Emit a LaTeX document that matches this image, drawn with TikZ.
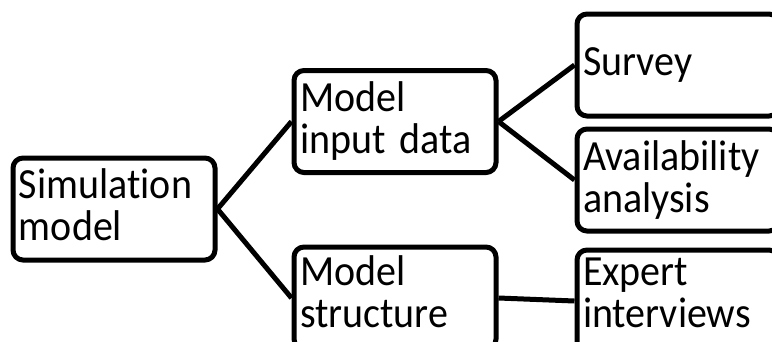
\documentclass[tikz,border=0pt]{standalone}
\usepackage{fontspec}
\setmainfont{Carlito}[FakeStretch=0.93, Ligatures=NoCommon]
\begin{document}
\begin{tikzpicture}[x=1pt,y=-1pt,
  box/.style={draw=black, line width=5pt, rounded corners=10pt, fill=white,
    minimum width=202pt, minimum height=102pt, inner xsep=6pt, inner ysep=0pt,
    text width=190pt, align=left,
    font=\fontsize{43}{42}\selectfont},
  link/.style={draw=black, line width=5pt}]
  \clip (0,0) rectangle (772,341);
  \fill[white] (0,0) rectangle (772,341);

  % tree nodes (the larger text depths lift two-line labels a little)
  \node[box, text depth=50pt] (sim)    at (114,209)   {Simulation\\model};
  \node[box]                  (input)  at (395,121.5) {Model\\input data};
  \node[box, text depth=54pt] (struct) at (395,298)   {Model\\structure};
  \node[box]                  (survey) at (678,65)    {Survey};
  \node[box]                  (avail)  at (678,180)   {Availability\\analysis};
  \node[box, text depth=58pt] (expert) at (678,301)   {Expert\\interviews};

  % branches
  \draw[link] (sim.east) -- (input.west);
  \draw[link] (sim.east) -- (struct.west);
  \draw[link] (input.east) -- (survey.west);
  \draw[link] (input.east) -- (avail.west);
  \draw[link] (struct.east) -- (expert.west);
\end{tikzpicture}
\end{document}
